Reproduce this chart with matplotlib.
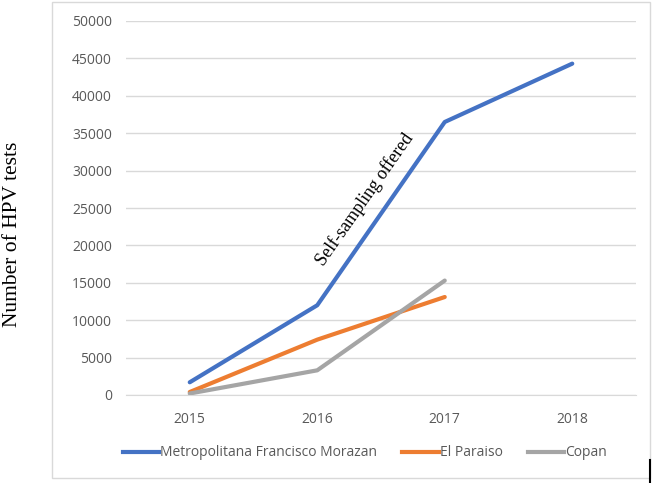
import matplotlib.pyplot as plt
from matplotlib.patches import Rectangle
from matplotlib.lines import Line2D

years = ['2015', '2016', '2017', '2018']
metro = [1700, 12000, 36500, 44300]
paraiso = [400, 7400, 13100]
copan = [200, 3300, 15300]

W, H = 652, 483
fig = plt.figure(figsize=(W / 100, H / 100), dpi=100)

# chart border
fig.patches.append(Rectangle((52 / W, 1 - 478 / H), 598 / W, 476 / H,
                             transform=fig.transFigure, fill=False,
                             edgecolor='#d9d9d9', linewidth=1))

ax = fig.add_axes([126 / W, 1 - 395 / H, 510 / W, 374 / H])
x = range(len(years))
ax.plot(x, metro, color='#4472C4', lw=3, solid_capstyle='round')
ax.plot(x[:3], paraiso, color='#ED7D31', lw=3, solid_capstyle='round')
ax.plot(x[:3], copan, color='#A5A5A5', lw=3, solid_capstyle='round')

ax.set_xlim(-0.5, 3.5)
ax.set_ylim(0, 50000)
ax.set_yticks(range(0, 50001, 5000))
ax.set_xticks(list(x))
ax.set_xticklabels(years)
ax.grid(axis='y', color='#d9d9d9', lw=1)
ax.set_axisbelow(True)
for s in ['top', 'right', 'left']:
    ax.spines[s].set_visible(False)
ax.spines['bottom'].set_color('#d9d9d9')
ax.tick_params(length=0, labelsize=10, labelcolor='#595959', pad=10)
ax.tick_params(axis='x', pad=12)
for t in ax.get_xticklabels() + ax.get_yticklabels():
    t.set_family('Open Sans')

ax.text(1.37, 26200, 'Self-sampling offered', rotation=55,
        ha='center', va='center', family='Liberation Serif', fontsize=13,
        rotation_mode='anchor')

fig.text(13 / W, 1 - 234 / H, 'Number of HPV tests', rotation=90,
         ha='center', va='center', family='Liberation Serif', fontsize=15.5)

handles = [Line2D([], [], color='#4472C4', lw=3),
           Line2D([], [], color='#ED7D31', lw=3),
           Line2D([], [], color='#A5A5A5', lw=3)]
labels = ['Metropolitana Francisco Morazan', 'El Paraiso', 'Copan']
fig.legend(handles, labels, loc='center', bbox_to_anchor=(365 / W, 1 - 453 / H),
           ncol=3, frameon=False, prop={'family': 'Open Sans', 'size': 10},
           labelcolor='#595959', handlelength=2.6, handletextpad=0.1,
           columnspacing=1.8)

fig.add_artist(Line2D([650 / W, 650 / W], [0, 1 - 460 / H], color='black', lw=1.5,
                      transform=fig.transFigure))

fig.savefig('out.png', dpi=100)
